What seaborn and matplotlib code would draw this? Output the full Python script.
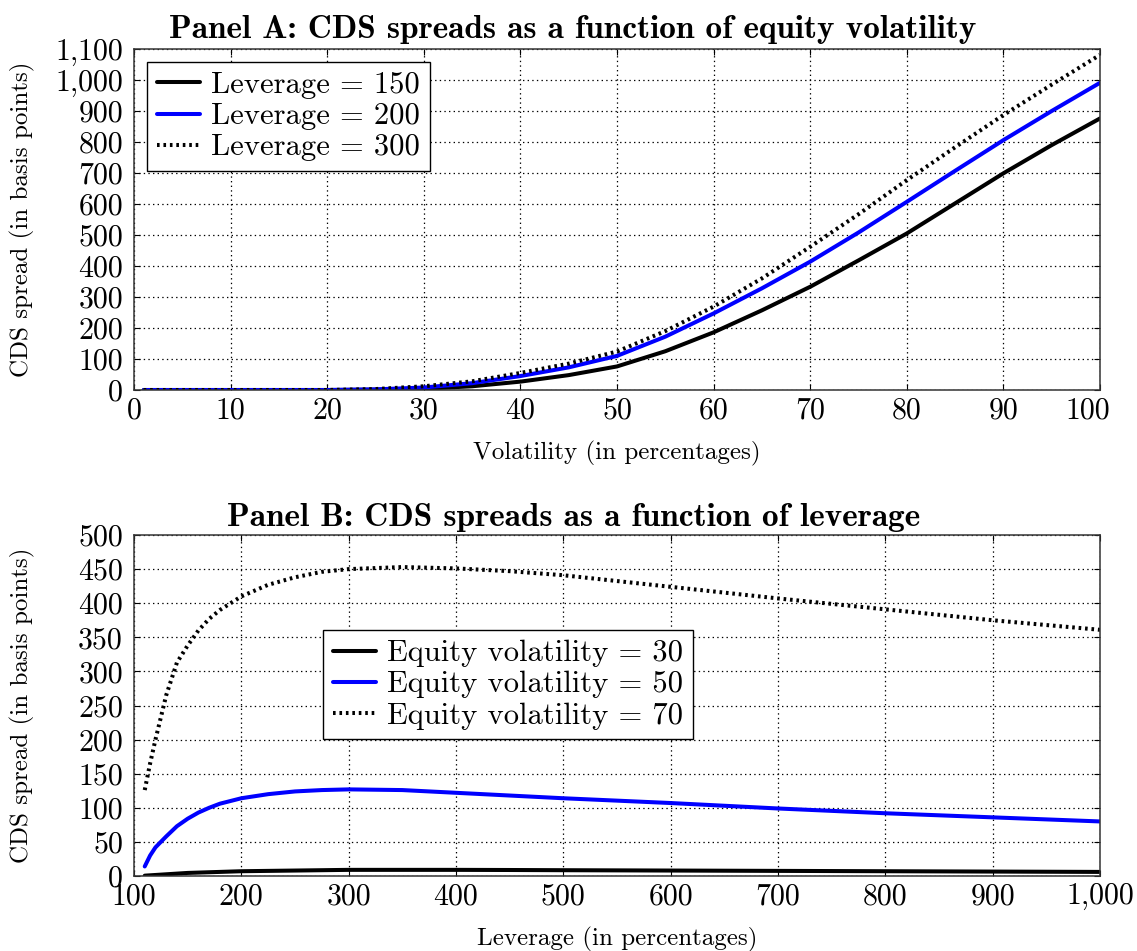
import numpy as np
import pandas as pd
import seaborn as sns
import matplotlib
matplotlib.use("Agg")
import matplotlib.pyplot as plt
from matplotlib.ticker import FixedLocator, FuncFormatter

# ---------------- data ----------------
vol = [1, 5, 10, 15, 20, 25, 30, 35, 40, 45, 50, 55, 60, 65, 70, 75, 80, 85, 90, 95, 100]
lev150 = [0, 0, 0, 0, 0, 1, 4, 12, 27, 48, 76, 125, 186, 257, 333, 418, 505, 602, 699, 790, 876]
lev200 = [0, 0, 0, 0, 0, 2, 8, 22, 45, 73, 110, 172, 247, 328, 414, 508, 607, 707, 806, 900, 991]
lev300 = [0, 0, 0, 0, 0, 3, 12, 28, 55, 85, 124, 190, 269, 360, 462, 567, 677, 783, 887, 985, 1081]
panelA_labels = ["Leverage = 150", "Leverage = 200", "Leverage = 300"]

lev = [110, 115, 120, 130, 140, 150, 160, 170, 180, 200, 225, 250, 275, 300, 350, 400, 450, 500, 600, 700, 800, 900, 1000]
vol30 = [0.5, 1, 1.5, 2.5, 3.5, 4.5, 5, 5.5, 6, 7, 7.5, 8, 8.5, 9, 9, 9, 8.8, 8.5, 8, 7.5, 7, 6.5, 6]
vol50 = [14, 30, 42, 58, 73, 84, 93, 100, 106, 114, 120, 124, 126, 127, 126, 122, 118, 114, 107, 99, 92, 86, 80]
vol70 = [126, 165, 200, 265, 313, 338, 360, 377, 390, 410, 427, 438, 446, 450, 453, 451, 447, 441, 424, 407, 391, 375, 361]
panelB_labels = ["Equity volatility = 30", "Equity volatility = 50", "Equity volatility = 70"]

xticksA = list(range(0, 101, 10))
yticksA = list(range(0, 1101, 100))
xticksB = list(range(100, 1001, 100))
yticksB = list(range(0, 501, 50))

# ---------------- style ----------------
sns.set_theme(style="white")
plt.rcParams["font.family"] = ["cmr10", "DejaVu Serif"]
plt.rcParams["mathtext.fontset"] = "cm"
plt.rcParams["axes.unicode_minus"] = False
plt.rcParams["axes.formatter.use_mathtext"] = True
for k in ["text.color", "axes.labelcolor", "xtick.color", "ytick.color"]:
    plt.rcParams[k] = "black"

TICK_FS = 21.5
LEG_FS = 22
fig = plt.figure(figsize=(11.37, 9.51), dpi=100)
W, H = 1137, 951

def make_ax(left, top, right, bottom):
    return fig.add_axes([left / W, 1 - bottom / H, (right - left) / W, (bottom - top) / H])

axA = make_ax(134, 49, 1100, 390)
axB = make_ax(134, 535, 1100, 876)

comma = FuncFormatter(lambda v, p: f"{int(v):,}")
# Panel A's last x label is drawn separately (nudged left, as in the original)
commaA = FuncFormatter(lambda v, p: "" if v == xticksA[-1] else f"{int(v):,}")

styles = [dict(color="black", linestyle="-"),
          dict(color="#0000ff", linestyle="-"),
          dict(color="black", linestyle=(0, (0.65, 0.95)))]

def draw(ax, x, series, labels):
    for ys, lab, st in zip(series, labels, styles):
        df = pd.DataFrame({"x": x, "y": ys})
        sns.lineplot(data=df, x="x", y="y", ax=ax, label=lab, linewidth=2.9,
                     color=st["color"], linestyle=st["linestyle"], sort=False)

draw(axA, vol, [lev150, lev200, lev300], panelA_labels)
draw(axB, lev, [vol30, vol50, vol70], panelB_labels)

def style_ax(ax, xt, yt, xlim, ylim, xfmt, xlabel, ylabel, xlab_y):
    ax.set_xlim(*xlim)
    ax.set_ylim(*ylim)
    ax.xaxis.set_major_locator(FixedLocator(xt))
    ax.yaxis.set_major_locator(FixedLocator(yt))
    ax.xaxis.set_major_formatter(xfmt)
    ax.yaxis.set_major_formatter(comma)
    ax.grid(True, color="black", linestyle=(0, (1.1, 2.6)), linewidth=0.9)
    ax.tick_params(axis="both", which="major", direction="in", length=4, width=0.8,
                   labelsize=TICK_FS, colors="black", top=True, right=True,
                   bottom=True, left=True)
    ax.tick_params(axis="x", pad=5)
    ax.tick_params(axis="y", pad=8)
    for s in ax.spines.values():
        s.set_color("#333333")
        s.set_linewidth(1.1)
        s.set_visible(True)
    ax.set_xlabel(xlabel, fontsize=18)
    ax.set_ylabel(ylabel, fontsize=18)
    ax.xaxis.set_label_coords(0.5, xlab_y)
    ax.yaxis.set_label_coords(-0.102, 0.5)

style_ax(axA, xticksA, yticksA, (0, 100), (0, 1100), commaA,
         "Volatility (in percentages)", "CDS spread (in basis points)", -0.148)
style_ax(axB, xticksB, yticksB, (100, 1000), (0, 500), comma,
         "Leverage (in percentages)", "CDS spread (in basis points)", -0.15)

axA.annotate(f"{xticksA[-1]:,}", xy=(1, 0), xycoords="axes fraction",
             xytext=(-9, -5), textcoords="offset points",
             ha="center", va="top", fontsize=TICK_FS)

for ax, anchor in [(axA, (0.0135, 0.962)), (axB, (0.196, 0.721))]:
    leg = ax.legend(loc="upper left", bbox_to_anchor=anchor, fontsize=LEG_FS,
                    frameon=True, fancybox=False, framealpha=1, edgecolor="black",
                    handlelength=1.4, handletextpad=0.37, borderpad=0.32,
                    labelspacing=0.12, borderaxespad=0)
    leg.get_frame().set_linewidth(1.0)

fig.text(573 / W, 1 - 29 / H, "Panel A: CDS spreads as a function of equity volatility",
         ha="center", va="center", fontsize=24, family=["cmb10", "DejaVu Serif"])
fig.text(574 / W, 1 - 517 / H, "Panel B: CDS spreads as a function of leverage",
         ha="center", va="center", fontsize=24, family=["cmb10", "DejaVu Serif"])

fig.savefig("out.png", dpi=100)
